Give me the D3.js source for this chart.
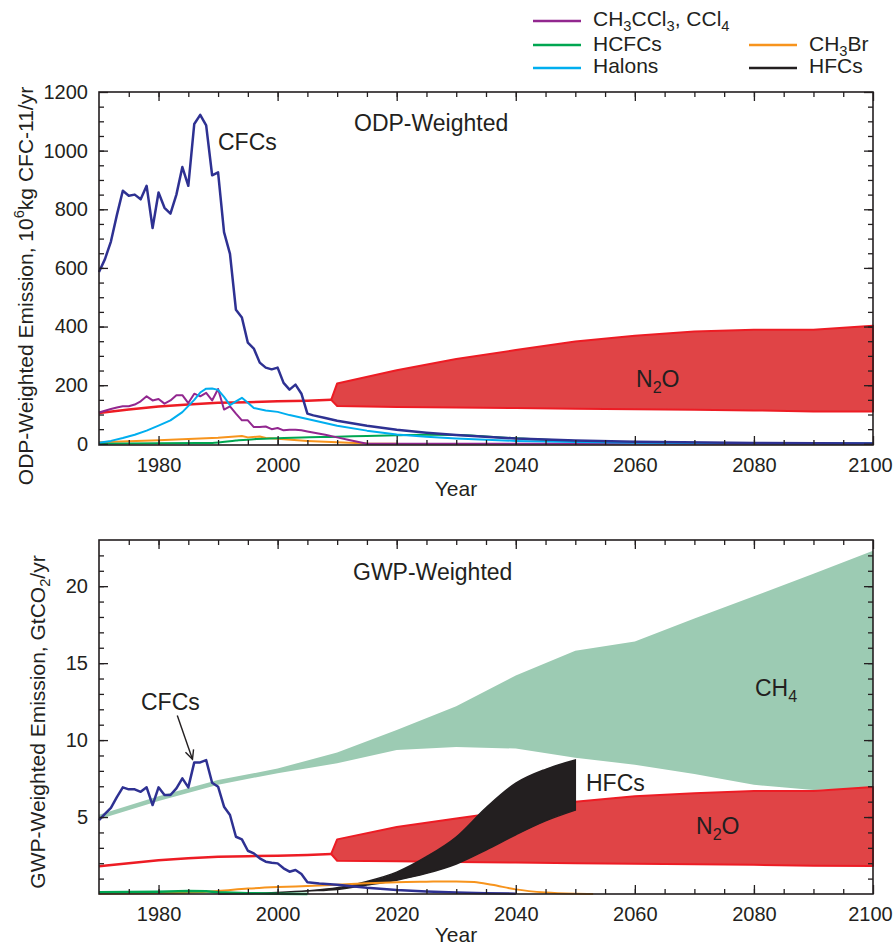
<!DOCTYPE html>
<html>
<head>
<meta charset="utf-8">
<script src="https://cdn.jsdelivr.net/npm/d3@7"></script>
<style>
  body { margin: 0; background: #fff; }
  svg text { font-family: "Liberation Sans", Arial, Helvetica, sans-serif; fill: #231f20; }
</style>
</head>
<body>
<div id="chart"></div>
<script>
// ---------- data ----------
// yearly history 1970-2005, then sparse projection years
var histYears = [1970,1971,1972,1973,1974,1975,1976,1977,1978,1979,1980,1981,1982,1983,1984,1985,1986,1987,1988,1989,
                 1990,1991,1992,1993,1994,1995,1996,1997,1998,1999,2000,2001,2002,2003,2004,2005];

// ODP-weighted (10^6 kg CFC-11/yr)
var odpCfcYears = histYears.concat([2006,2008,2010,2015,2020,2025,2030,2040,2050,2060,2080,2100]);
var odpCfc = [586,630,690,780,863,846,850,834,880,736,857,805,785,850,944,880,1091,1122,1086,916,
              926,722,648,457,431,345,325,277,260,254,260,208,185,202,171,103,
              97,88,79,62,48,38,30,18,11,7,3,1];

var odpCh3ccl3Years = histYears.concat([2008,2010,2012,2015,2100]);
var odpCh3ccl3 = [107,113,119,124,128,128,134,145,162,148,153,137,148,166,166,139,171,162,174,148,
                  187,117,128,103,80,80,57,57,59,50,54,46,48,48,46,42,
                  31,22,13,0,0];

var odpHalonYears = [1970,1972,1974,1976,1978,1980,1982,1984,1986,1987,1988,1989,1990,1991,1992,1993,1994,1995,1996,1998,
                     2000,2002,2005,2010,2015,2020,2025,2030,2040,2050,2060,2080,2100];
var odpHalon = [4,10,20,31,45,62,80,108,150,175,188,189,184,160,132,145,157,140,122,114,
                109,98,85,62,45,32,24,18,10,6,4,2,1];

var odpHcfcYears = [1970,1980,1989,1993,1996,2000,2004,2010,2015,2020,2025,2030,2035,2040,2050,2060,2080,2100];
var odpHcfc = [0,2,3,11,16,19,22,24,27,29,31,30,25,19,10,5,1,0];

var odpCh3brYears = [1970,1980,1990,1994,1995,1997,1998,2000,2005,2010,2015,2020];
var odpCh3br = [5,12,21,27,22,25,20,17,10,5,1,0];

var odpN2oHistYears = [1970,1975,1980,1985,1990,1995,2000,2005,2009];
var odpN2oHist = [105,117,127,134,140,142,145,147,150];
var n2oBandYears = [2010,2020,2030,2040,2050,2060,2070,2080,2090,2100];
var odpN2oLow  = [129,126,124,122,120,118,116,114,110,110];
var odpN2oHigh = [206,251,289,320,349,369,383,389,389,403];

// GWP-weighted (GtCO2/yr)
var gwpCfcYears = histYears.concat([2007,2010,2015,2020,2025,2030,2035,2040]);
var gwpCfc = [4.8,5.2,5.6,6.3,6.93,6.8,6.8,6.64,6.93,5.78,6.93,6.43,6.43,6.86,7.51,6.93,8.55,8.55,8.7,7.23,
              6.97,5.67,5.13,3.72,3.55,2.81,2.64,2.32,2.1,2.03,1.99,1.67,1.45,1.56,1.3,0.76,
              0.68,0.6,0.4,0.26,0.17,0.1,0.05,0.02];

var ch4Years = [1970,1980,1990,2000,2010,2020,2030,2040,2050,2060,2070,2080,2090,2100];
var ch4Low  = [4.85,6.05,7.1,7.85,8.5,9.35,9.55,9.45,8.85,8.4,7.8,7.1,6.75,6.9];
var ch4High = [5.15,6.35,7.4,8.15,9.2,10.65,12.2,14.2,15.8,16.4,17.9,19.35,20.8,22.3];

var gwpN2oHistYears = [1970,1975,1980,1985,1990,1995,2000,2005,2009];
var gwpN2oHist = [1.8,2.0,2.2,2.32,2.42,2.46,2.49,2.54,2.6];
var gwpN2oLow  = [2.16,2.12,2.08,2.04,2.0,1.97,1.94,1.9,1.84,1.82];
var gwpN2oHigh = [3.55,4.35,4.9,5.45,6.0,6.35,6.55,6.7,6.7,6.95];

var hfcYears = [1990,1995,2000,2005,2010,2015,2020,2025,2030,2035,2040,2045,2050];
var hfcLow  = [0,0.03,0.1,0.2,0.3,0.58,0.9,1.34,1.95,2.86,3.85,4.75,5.45];
var hfcHigh = [0,0.03,0.1,0.21,0.4,0.82,1.42,2.42,3.7,5.6,7.2,8.1,8.7];

var gwpCh3brYears = [1970,1980,1985,1990,1995,2000,2005,2010,2015,2020,2025,2030,2033,2036,2040,2045,2050,2053];
var gwpCh3br = [0.02,0.06,0.1,0.2,0.35,0.45,0.52,0.6,0.7,0.77,0.8,0.82,0.78,0.6,0.3,0.1,0.02,0];

var gwpHcfcYears = [1970,1975,1980,1985,1988,1990,1995,2000,2005];
var gwpHcfc = [0.12,0.13,0.15,0.2,0.18,0.12,0.05,0.02,0];

// axis ticks
var xMajor = [1980,2000,2020,2040,2060,2080,2100];
var xMinor = d3.range(1975, 2100, 5);
var yTopMajor = [0,200,400,600,800,1000,1200];
var yTopMinor = d3.range(50, 1200, 50);
var yBotMajor = [5,10,15,20];
var yBotMinor = d3.range(1, 23, 1);

var colors = {
  cfc: "#2e3192", ch3ccl3: "#92278f", hcfc: "#00a651", halon: "#00aeef",
  ch3br: "#f7941d", hfc: "#231f20", n2oLine: "#ed1c24", n2oFill: "#e04446", ch4: "#9ccbb3"
};

// ---------- drawing ----------
var svg = d3.select("#chart").append("svg")
  .attr("width", 894)
  .attr("height", 945);

var x = d3.scaleLinear().domain([1970, 2100]).range([99, 873]);
var yTop = d3.scaleLinear().domain([-4, 1200]).range([445, 92]);
var yBot = d3.scaleLinear().domain([0, 23]).range([894, 540]);

function pts(years, vals) { return d3.zip(years, vals); }

function drawLine(g, y, years, vals, color, w, curve) {
  var line = d3.line().x(d => x(d[0])).y(d => y(d[1])).curve(curve || d3.curveLinear);
  g.append("path")
    .attr("d", line(pts(years, vals)))
    .attr("fill", "none")
    .attr("stroke", color)
    .attr("stroke-width", w)
    .attr("stroke-linejoin", "round");
}

function drawBand(g, y, years, low, high, fill, stroke, w, curve) {
  var area = d3.area().x(d => x(d[0])).y0(d => y(d[1])).y1(d => y(d[2])).curve(curve || d3.curveLinear);
  g.append("path")
    .attr("d", area(d3.zip(years, low, high)))
    .attr("fill", fill)
    .attr("stroke", stroke || "none")
    .attr("stroke-width", w || 0);
}

// N2O: history line, then pointed band
function drawN2o(g, y, hy, hv, low, high) {
  drawLine(g, y, hy, hv, colors.n2oLine, 2.5);
  var tip = [hy[hy.length - 1], hv[hv.length - 1]];
  var ring = [tip].concat(pts(n2oBandYears, high), pts(n2oBandYears, low).reverse());
  var line = d3.line().x(d => x(d[0])).y(d => y(d[1]));
  g.append("path")
    .attr("d", line(ring) + "Z")
    .attr("fill", colors.n2oFill)
    .attr("stroke", colors.n2oLine)
    .attr("stroke-width", 2)
    .attr("stroke-linejoin", "round");
}

function drawAxes(g, y, yMajor, yMinor) {
  var y0 = y.range()[0], y1 = y.range()[1];
  var x0 = x.range()[0], x1 = x.range()[1];

  var ax = [
    [d3.axisBottom(x).tickValues(xMajor).tickSize(-9).tickPadding(13).tickFormat(d3.format("d")), "translate(0," + y0 + ")"],
    [d3.axisBottom(x).tickValues(xMinor).tickSize(-5).tickFormat(""), "translate(0," + y0 + ")"],
    [d3.axisTop(x).tickValues(xMajor).tickSize(-9).tickFormat(""), "translate(0," + y1 + ")"],
    [d3.axisTop(x).tickValues(xMinor).tickSize(-5).tickFormat(""), "translate(0," + y1 + ")"],
    [d3.axisLeft(y).tickValues(yMajor).tickSize(-9).tickPadding(11).tickFormat(d3.format("d")), "translate(" + x0 + ",0)"],
    [d3.axisLeft(y).tickValues(yMinor).tickSize(-5).tickFormat(""), "translate(" + x0 + ",0)"],
    [d3.axisRight(y).tickValues(yMajor).tickSize(-9).tickFormat(""), "translate(" + x1 + ",0)"],
    [d3.axisRight(y).tickValues(yMinor).tickSize(-5).tickFormat(""), "translate(" + x1 + ",0)"]
  ];
  ax.forEach(function(a, i) {
    var ag = g.append("g").attr("transform", a[1]).call(a[0].tickSizeOuter(0));
    ag.select(".domain").remove();
    ag.attr("font-size", 20).attr("font-family", null);
    ag.selectAll("line").attr("stroke", "#231f20").attr("stroke-width", 1.3);
    // keep the last year label inside the page
    if (i === 0) ag.selectAll("text").filter(d => d === 2100).attr("dx", -3);
  });

  g.append("rect")
    .attr("x", x0).attr("y", y1)
    .attr("width", x1 - x0).attr("height", y0 - y1)
    .attr("fill", "none")
    .attr("stroke", "#231f20")
    .attr("stroke-width", 1.6);
}

// text with subscripts/superscripts: parts = [[text, "sub"|"sup"|null], ...]
function richText(g, px, py, parts, size, anchor, rotate) {
  var t = g.append("text")
    .attr("font-size", size)
    .attr("text-anchor", anchor || "start");
  if (rotate) t.attr("transform", "translate(" + px + "," + py + ") rotate(-90)");
  else t.attr("x", px).attr("y", py);
  var shift = 0;
  parts.forEach(function(p) {
    var s = t.append("tspan").text(p[0]);
    var target = p[1] === "sub" ? size * 0.25 : p[1] === "sup" ? -size * 0.42 : 0;
    if (p[1]) s.attr("font-size", size * 0.7);
    s.attr("dy", target - shift);
    shift = target;
  });
  return t;
}

// ---------- top chart (ODP) ----------
var odpG = svg.append("g");
var odpPlot = odpG.append("g");
drawN2o(odpPlot, yTop, odpN2oHistYears, odpN2oHist, odpN2oLow, odpN2oHigh);
drawLine(odpPlot, yTop, odpCh3brYears, odpCh3br, colors.ch3br, 2);
drawLine(odpPlot, yTop, odpHcfcYears, odpHcfc, colors.hcfc, 2, d3.curveMonotoneX);
drawLine(odpPlot, yTop, odpCh3ccl3Years, odpCh3ccl3, colors.ch3ccl3, 2);
drawLine(odpPlot, yTop, odpHalonYears, odpHalon, colors.halon, 2);
drawLine(odpPlot, yTop, odpCfcYears, odpCfc, colors.cfc, 2.5);
drawAxes(odpG, yTop, yTopMajor, yTopMinor);

odpG.append("text").attr("x", 354).attr("y", 131).attr("font-size", 23).text("ODP-Weighted");
odpG.append("text").attr("x", 218).attr("y", 150).attr("font-size", 23).text("CFCs");
richText(odpG, 636, 387, [["N", null], ["2", "sub"], ["O", null]], 23);
odpG.append("text").attr("x", 456).attr("y", 496).attr("font-size", 21).attr("text-anchor", "middle").text("Year");
richText(odpG, 33, 286, [["ODP-Weighted Emission, 10", null], ["6", "sup"], ["kg CFC-11/yr", null]], 21, "middle", true);

// ---------- bottom chart (GWP) ----------
var gwpG = svg.append("g");
var gwpPlot = gwpG.append("g");
drawBand(gwpPlot, yBot, ch4Years, ch4Low, ch4High, colors.ch4);
drawN2o(gwpPlot, yBot, gwpN2oHistYears, gwpN2oHist, gwpN2oLow, gwpN2oHigh);
drawBand(gwpPlot, yBot, hfcYears, hfcLow, hfcHigh, colors.hfc, colors.hfc, 1.5, d3.curveMonotoneX);
drawLine(gwpPlot, yBot, gwpCh3brYears, gwpCh3br, colors.ch3br, 2, d3.curveMonotoneX);
drawLine(gwpPlot, yBot, gwpCfcYears, gwpCfc, colors.cfc, 2.5);
drawLine(gwpPlot, yBot, gwpHcfcYears, gwpHcfc, colors.hcfc, 2.5);
drawAxes(gwpG, yBot, yBotMajor, yBotMinor);

gwpG.append("text").attr("x", 353).attr("y", 580).attr("font-size", 23).text("GWP-Weighted");
gwpG.append("text").attr("x", 141).attr("y", 710).attr("font-size", 23).text("CFCs");
richText(gwpG, 755, 696, [["CH", null], ["4", "sub"]], 23);
gwpG.append("text").attr("x", 586).attr("y", 791).attr("font-size", 23).text("HFCs");
richText(gwpG, 696, 834, [["N", null], ["2", "sub"], ["O", null]], 23);
gwpG.append("text").attr("x", 456).attr("y", 942).attr("font-size", 21).attr("text-anchor", "middle").text("Year");
richText(gwpG, 45, 722, [["GWP-Weighted Emission, GtCO", null], ["2", "sub"], ["/yr", null]], 21, "middle", true);

// arrow from CFCs label to the peak
var ax0 = [x(1983.15), yBot(11.6)], ax1 = [x(1985.7), yBot(8.75)];
gwpG.append("line")
  .attr("x1", ax0[0]).attr("y1", ax0[1]).attr("x2", ax1[0]).attr("y2", ax1[1])
  .attr("stroke", "#231f20").attr("stroke-width", 1.4);
var ang = Math.atan2(ax1[1] - ax0[1], ax1[0] - ax0[0]);
var head = [ang + 2.7, ang - 2.7].map(a => [ax1[0] + 10 * Math.cos(a), ax1[1] + 10 * Math.sin(a)]);
gwpG.append("path")
  .attr("d", "M" + head[0] + "L" + ax1 + "L" + head[1])
  .attr("fill", "none").attr("stroke", "#231f20").attr("stroke-width", 1.4);

// ---------- legend ----------
var legend = svg.append("g");
var legendItems = [
  { parts: [["CH", null], ["3", "sub"], ["CCl", null], ["3", "sub"], [", CCl", null], ["4", "sub"]], color: colors.ch3ccl3, lx: 533, ly: 21, ty: 26 },
  { parts: [["HCFCs", null]], color: colors.hcfc, lx: 533, ly: 45, ty: 51 },
  { parts: [["Halons", null]], color: colors.halon, lx: 533, ly: 68, ty: 73 },
  { parts: [["CH", null], ["3", "sub"], ["Br", null]], color: colors.ch3br, lx: 749, ly: 45, ty: 51 },
  { parts: [["HFCs", null]], color: colors.hfc, lx: 749, ly: 68, ty: 73 }
];
legendItems.forEach(function(it) {
  legend.append("line")
    .attr("x1", it.lx).attr("x2", it.lx + 48)
    .attr("y1", it.ly).attr("y2", it.ly)
    .attr("stroke", it.color).attr("stroke-width", 2.5);
  richText(legend, it.lx + 60, it.ty, it.parts, 21);
});
</script>
</body>
</html>
